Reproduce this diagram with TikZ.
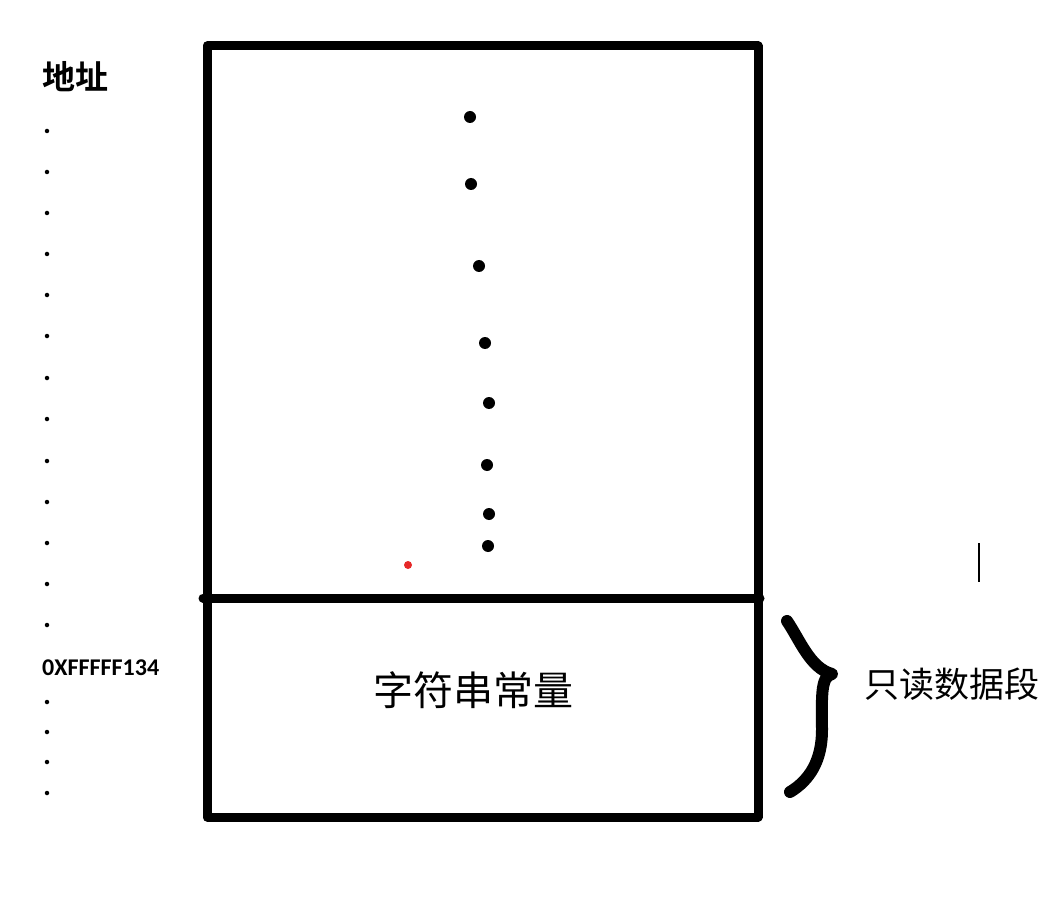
\documentclass[tikz,border=0pt]{standalone}
\usepackage{fontspec}
\newfontfamily\cjk{Noto Sans CJK SC}
\newfontfamily\cjkb{Noto Sans CJK SC}[BoldFont={Noto Sans CJK SC Bold}]
\newfontfamily\carl{Carlito}
\definecolor{dotred}{RGB}{230,40,40}
\begin{document}
\begin{tikzpicture}[x=1pt,y=-1pt,
  frame/.style={line width=9pt,line cap=round,line join=round},
  bigdot/.style={fill=black,circle,inner sep=0pt,minimum size=12pt},
  lbl/.style={inner sep=0pt}]
\useasboundingbox (0,0) rectangle (1050,904);
% box
\draw[frame] (207,46) rectangle (758,817);
\draw[frame] (203,598) -- (760,598);
% dots in box
\foreach \x/\y [count=\i] in {470/117,471/184,479/266,485/343,489/403,487/465,489/514,488/546}
  \node[bigdot] (d\i) at (\x,\y) {};
\node[fill=dotred,circle,inner sep=0pt,minimum size=8pt] (red) at (408,565) {};
% label inside
\node[lbl,font=\cjk\fontsize{40}{40}\selectfont] (str) at (473,690) {字符串常量};
% address column
\node[lbl,anchor=west,font=\cjkb\bfseries\fontsize{33}{33}\selectfont] (addr) at (42,77) {地址};
\foreach \y [count=\i] in {131,172,213,254,295,336,378,419,461,502,543,584,625,702,732,762,793}
  \node[fill=black,circle,inner sep=0pt,minimum size=4.5pt] (a\i) at (47,\y) {};
\node[lbl,anchor=west,font=\carl\bfseries\fontsize{24}{24}\selectfont] (hex) at (42,668) {0XFFFFF134};
% brace
\coordinate (b1) at (787,621);
\coordinate (b2) at (832,674);
\coordinate (b3) at (790,792);
\draw[line width=12pt,line cap=round,line join=round]
  (b1) .. controls (800,640) and (810,668) .. (b2)
  .. controls (820,676) and (822,700) .. (822,730)
  .. controls (822,760) and (810,780) .. (b3);
\node[lbl,font=\cjk\fontsize{35}{35}\selectfont] (ro) at (952,684) {只读数据段};
% caret
\coordinate (c1) at (979,543);
\coordinate (c2) at (979,582);
\draw[line width=1.5pt] (c1) -- (c2);
\end{tikzpicture}
\end{document}
